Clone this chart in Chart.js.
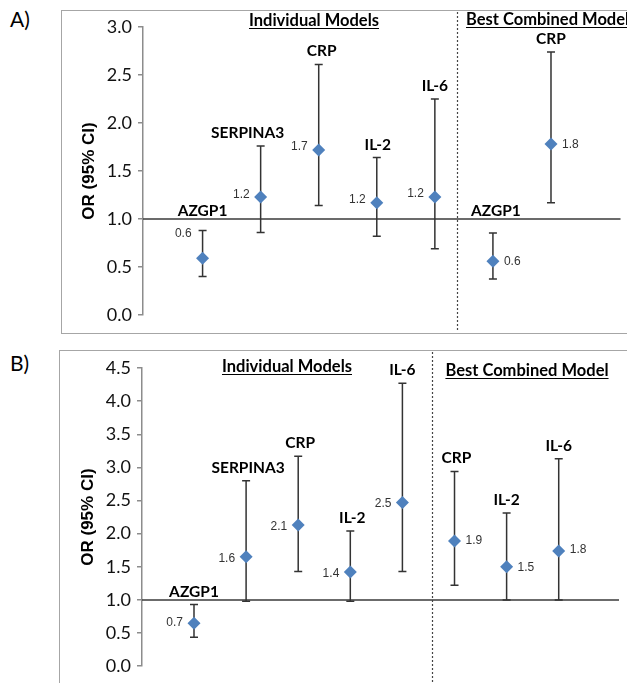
<!DOCTYPE html>
<html>
<head>
<meta charset="utf-8">
<script src="https://cdn.jsdelivr.net/npm/chart.js@4.4.0/dist/chart.umd.min.js"></script>
<style>
  html, body { margin: 0; padding: 0; background: #fff; }
  body { width: 627px; height: 683px; position: relative; overflow: hidden; font-family: Lato, sans-serif; }
  .box { position: absolute; border: 1.5px solid #a6a6a6; background: #fff; }
  .tag { position: absolute; left: 10px; font: 21px Lato, sans-serif; color: #000; }
  canvas { position: absolute; left: 0; }
</style>
</head>
<body>
<div class="box" style="left:61px;top:10px;width:600px;height:322px;"></div>
<div class="box" style="left:59px;top:350px;width:600px;height:400px;"></div>
<div class="tag" style="top:6px;">A)</div>
<div class="tag" style="top:350px;">B)</div>
<canvas id="chartA" width="627" height="340" style="top:0;"></canvas>
<canvas id="chartB" width="627" height="343" style="top:340px;"></canvas>
<script>
// Panel A
var aNames = ['AZGP1', 'SERPINA3', 'CRP', 'IL-2', 'IL-6', 'AZGP1', 'CRP'];
var aOR    = [0.59, 1.23, 1.72, 1.17, 1.23, 0.56, 1.78];
var aLow   = [0.40, 0.86, 1.14, 0.82, 0.69, 0.375, 1.17];
var aHigh  = [0.88, 1.76, 2.61, 1.64, 2.25, 0.855, 2.74];
var aText  = ['0.6', '1.2', '1.7', '1.2', '1.2', '0.6', '1.8'];
var aTicks = ['0.0', '0.5', '1.0', '1.5', '2.0', '2.5', '3.0'];

// Panel B
var bNames = ['AZGP1', 'SERPINA3', 'CRP', 'IL-2', 'IL-6', 'CRP', 'IL-2', 'IL-6'];
var bOR    = [0.65, 1.65, 2.13, 1.42, 2.47, 1.89, 1.50, 1.74];
var bLow   = [0.435, 0.98, 1.43, 0.98, 1.43, 1.22, 1.00, 1.00];
var bHigh  = [0.93, 2.80, 3.17, 2.04, 4.27, 2.94, 2.31, 3.13];
var bText  = ['0.7', '1.6', '2.1', '1.4', '2.5', '1.9', '1.5', '1.8'];
var bTicks = ['0.0', '0.5', '1.0', '1.5', '2.0', '2.5', '3.0', '3.5', '4.0', '4.5'];

var nIndividual = 5;
var sections = ['Individual Models', 'Best Combined Model'];

var forestPlugin = {
  id: 'forest',
  beforeDatasetsDraw: function(chart, args, o) {
    var ctx = chart.ctx, x = chart.scales.x, y = chart.scales.y, area = chart.chartArea;
    ctx.save();
    // reference line at OR = 1
    ctx.strokeStyle = '#3a3a3a';
    ctx.lineWidth = 1.5;
    ctx.beginPath();
    ctx.moveTo(area.left, y.getPixelForValue(1));
    ctx.lineTo(area.right, y.getPixelForValue(1));
    ctx.stroke();
    // dashed separator
    var sx = Math.round(x.getPixelForValue(o.sep)) + 0.5;
    ctx.strokeStyle = '#444';
    ctx.lineWidth = 1.2;
    ctx.setLineDash([2, 2]);
    ctx.beginPath();
    ctx.moveTo(sx, o.sepTop);
    ctx.lineTo(sx, o.sepBottom);
    ctx.stroke();
    ctx.setLineDash([]);
    // error bars
    ctx.strokeStyle = '#333';
    ctx.lineWidth = 1.5;
    for (var i = 0; i < o.low.length; i++) {
      var px = x.getPixelForValue(i);
      var pl = y.getPixelForValue(o.low[i]);
      var ph = y.getPixelForValue(o.high[i]);
      ctx.beginPath();
      ctx.moveTo(px, pl); ctx.lineTo(px, ph);
      ctx.moveTo(px - 4, pl); ctx.lineTo(px + 4, pl);
      ctx.moveTo(px - 4, ph); ctx.lineTo(px + 4, ph);
      ctx.stroke();
    }
    ctx.restore();
  },
  afterDatasetsDraw: function(chart, args, o) {
    var ctx = chart.ctx, x = chart.scales.x, y = chart.scales.y, area = chart.chartArea;
    ctx.save();
    // axis title
    ctx.save();
    ctx.translate(o.titleX, (area.top + area.bottom) / 2);
    ctx.rotate(-Math.PI / 2);
    ctx.font = 'bold 17px "Liberation Sans", Arial, sans-serif';
    ctx.fillStyle = '#000';
    ctx.textAlign = 'center';
    ctx.textBaseline = 'middle';
    ctx.fillText('OR (95% CI)', 0, 0);
    ctx.restore();

    for (var i = 0; i < o.names.length; i++) {
      var px = x.getPixelForValue(i);
      var py = y.getPixelForValue(o.or[i]);
      // marker name
      var ny = o.high[i] < 1 ? y.getPixelForValue(1) - 8 : y.getPixelForValue(o.high[i]) - 13;
      ctx.font = 'bold 15.5px Lato, sans-serif';
      ctx.fillStyle = '#000';
      ctx.textAlign = 'center';
      ctx.textBaseline = 'middle';
      ctx.fillText(o.names[i], px + (o.nameDx[i] || 0), ny);
      // value label
      ctx.font = '12px "Liberation Sans", Arial, sans-serif';
      ctx.fillStyle = '#333';
      var dy = o.textDy[i] || 0;
      if (i < nIndividual) {
        ctx.textAlign = 'right';
        ctx.fillText(o.text[i], px - 11, py + dy);
      } else {
        ctx.textAlign = 'left';
        ctx.fillText(o.text[i], px + 11, py + dy);
      }
    }
    // section headings
    ctx.font = 'bold 16.5px Lato, sans-serif';
    ctx.fillStyle = '#000';
    ctx.textBaseline = 'alphabetic';
    ctx.strokeStyle = '#000';
    ctx.lineWidth = 1;
    o.heads.forEach(function(h) {
      var w = ctx.measureText(h.text).width;
      var left = h.align === 'left' ? h.x : h.x - w / 2;
      ctx.textAlign = 'left';
      ctx.fillText(h.text, left, h.y);
      ctx.beginPath();
      ctx.moveTo(left, h.y + 2.5);
      ctx.lineTo(left + w, h.y + 2.5);
      ctx.stroke();
    });
    ctx.restore();
  }
};

function makeChart(id, or, ticks, opts) {
  var pts = or.map(function(v, i) { return { x: i, y: v }; });
  var maxY = parseFloat(ticks[ticks.length - 1]);
  return new Chart(document.getElementById(id), {
    type: 'scatter',
    data: {
      datasets: [{
        data: pts,
        pointStyle: 'rectRot',
        pointRadius: 6.5,
        pointHoverRadius: 6.5,
        backgroundColor: '#4f81bd',
        borderWidth: 0
      }]
    },
    options: {
      responsive: false,
      animation: false,
      events: [],
      layout: { padding: opts.padding },
      plugins: {
        legend: { display: false },
        tooltip: { enabled: false },
        forest: opts.forest
      },
      scales: {
        x: { type: 'linear', display: false, min: opts.xmin, max: opts.xmax },
        y: {
          min: 0,
          max: maxY,
          afterFit: function(s) { s.width = opts.axisX; },
          afterBuildTicks: function(s) {
            s.ticks = ticks.map(function(t) { return { value: parseFloat(t) }; });
          },
          ticks: {
            padding: 6,
            color: '#111',
            font: { family: 'Lato', size: 18 },
            callback: function(v) { return v.toFixed(1); }
          },
          grid: { drawOnChartArea: false, drawTicks: true, tickLength: 5, color: '#8c8c8c', lineWidth: 1.5 },
          border: { color: '#8c8c8c', width: 1.5 }
        }
      }
    },
    plugins: [forestPlugin]
  });
}

makeChart('chartA', aOR, aTicks, {
  padding: { left: 0, right: 3, top: 27, bottom: 25 },
  axisX: 143,
  xmin: -1.026, xmax: 7.197,
  forest: {
    names: aNames, or: aOR, low: aLow, high: aHigh, text: aText,
    sep: 4.376, sepTop: 12, sepBottom: 331, titleX: 89,
    nameDx: [0, -13, 3, 1, 0, 3, 0],
    textDy: [-25, -2, -3, -3, -3, 0, 1],
    heads: [
      { text: sections[0], x: 314, y: 26, align: 'center' },
      { text: sections[1], x: 466, y: 25, align: 'left' }
    ]
  }
});

makeChart('chartB', bOR, bTicks, {
  padding: { left: 0, right: 8, top: 28, bottom: 15 },
  axisX: 142,
  xmin: -0.998, xmax: 8.157,
  forest: {
    names: bNames, or: bOR, low: bLow, high: bHigh, text: bText,
    sep: 4.57, sepTop: 12, sepBottom: 343, titleX: 88,
    nameDx: [0, 2, 2, 2, 0, 2, 0, 0],
    textDy: [0, 2, 2, 2, 1, 0, 1, -1],
    heads: [
      { text: sections[0], x: 287, y: 32, align: 'center' },
      { text: sections[1], x: 527, y: 36, align: 'center' }
    ]
  }
});
</script>
</body>
</html>
